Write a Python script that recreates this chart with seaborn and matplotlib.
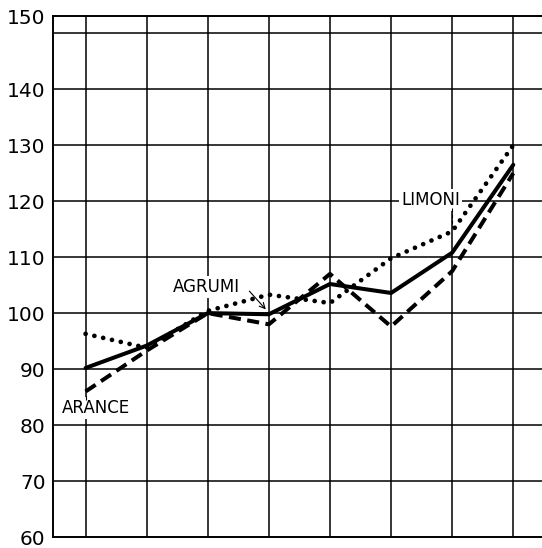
import pandas as pd
import numpy as np
import seaborn as sns
import matplotlib.pyplot as plt

# Values (index numbers, base 100)
periodi = [0, 1, 2, 3, 4, 5, 6, 7]
agrumi = [90.2, 94.2, 100.0, 99.8, 105.2, 103.6, 110.8, 126.5]
arance = [86.0, 93.3, 100.0, 98.0, 107.0, 97.6, 107.5, 125.0]
limoni = [96.3, 93.8, 100.4, 103.3, 101.8, 109.8, 114.6, 130.0]
y_ticks = [60, 70, 80, 90, 100, 110, 120, 130, 140, 150]

df = pd.DataFrame({
    "periodo": periodi * 3,
    "valore": agrumi + arance + limoni,
    "serie": ["AGRUMI"] * 8 + ["ARANCE"] * 8 + ["LIMONI"] * 8,
})

sns.set_style("white")
plt.rcParams["font.family"] = ["DejaVu Sans"]
plt.rcParams["text.color"] = "black"
plt.rcParams["ytick.color"] = "black"

fig = plt.figure(figsize=(5.42, 5.48), dpi=100)
ax = fig.add_axes([0.097, 0.020, 0.903, 0.950])

# grid drawn by hand so the extra line at 150 sits below the top frame
for x in periodi:
    ax.axvline(x, color="black", lw=1.1, zorder=1)
for y in y_ticks[1:]:
    ax.axhline(y, color="black", lw=1.1, zorder=1)

stili = {
    "AGRUMI": dict(linestyle="-", linewidth=2.9),
    "ARANCE": dict(linestyle=(0, (3.0, 1.6)), linewidth=2.9),
    "LIMONI": dict(linestyle=(0, (0.01, 1.9)), linewidth=3.4),
}
for nome, st in stili.items():
    sub = df[df["serie"] == nome]
    sns.lineplot(data=sub, x="periodo", y="valore", color="black", ax=ax,
                 zorder=3, **st)
    line = ax.lines[-1]
    if nome == "LIMONI":
        line.set_dash_capstyle("round")
    line.set_solid_joinstyle("miter")

ax.set_xlim(-0.54, 7.47)
top = 153.0
ax.set_ylim(60, top)
ax.set_xticks([])
ax.set_yticks(y_ticks[:-1] + [top])
ax.set_yticklabels([str(v) for v in y_ticks], fontsize=14.5)
ax.tick_params(axis="y", length=0, pad=5, labelcolor="black")
ax.set_xlabel("")
ax.set_ylabel("")

for s in ["left", "top", "bottom"]:
    ax.spines[s].set_visible(True)
    ax.spines[s].set_color("black")
    ax.spines[s].set_linewidth(1.4)
ax.spines["right"].set_visible(False)

# labels on the series
fs = 12
box = dict(facecolor="white", edgecolor="none", pad=1.5)
ax.text(0.17, 83.0, "ARANCE", fontsize=fs, ha="center", va="center",
        color="black", bbox=box, zorder=4)
ax.plot([0, 0], [84.5, 85.6], color="black", lw=0.8, ls="--", zorder=4)

ax.text(1.98, 104.7, "AGRUMI", fontsize=fs, ha="center", va="center",
        color="black", bbox=box, zorder=4)
ax.annotate("", xy=(2.98, 100.3), xytext=(2.65, 104.3),
            arrowprops=dict(arrowstyle="->", color="black", lw=0.8), zorder=4)

ax.text(5.65, 120.2, "LIMONI", fontsize=fs, ha="center", va="center",
        color="black", bbox=box, zorder=4)
ax.plot([6.0, 6.0], [118.7, 115.4], color="black", lw=0.8, ls="--", zorder=4)

fig.savefig("out.png", dpi=100)
